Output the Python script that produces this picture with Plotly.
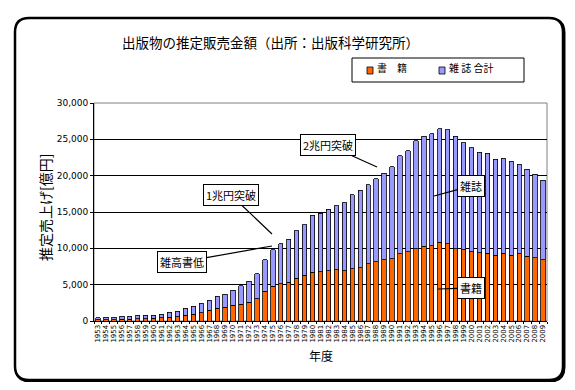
import plotly.graph_objects as go

years = [str(y) for y in range(1953, 2010)]

books = [180, 200, 200, 250, 260, 330, 340, 360, 430, 500,
         560, 760, 900, 1150, 1470, 1750, 1890, 2160, 2300, 2580,
         3090, 4100, 4790, 5160, 5340, 5900, 6270, 6680, 6790, 6930,
         7070, 6930, 7210, 7340, 7890, 8170, 8450, 8580, 9270, 9550,
         9910, 10260, 10370, 10830, 10650, 9960, 9820, 9550, 9410, 9320,
         9040, 9320, 9040, 9270, 8900, 8720, 8450]

magazines = [300, 300, 300, 400, 420, 450, 460, 460, 520, 720,
             780, 1020, 1150, 1290, 1410, 1690, 1810, 2100, 2520, 2920,
             3380, 4300, 5000, 5440, 5940, 6520, 6980, 7900, 8060, 8450,
             8810, 9360, 10190, 10650, 10880, 11430, 11880, 12670, 13500, 13900,
             14920, 15170, 15430, 15650, 15700, 15470, 14740, 14320, 13820, 13770,
             13220, 13080, 12950, 12300, 11980, 11480, 10920]

y_ticks = [0, 5000, 10000, 15000, 20000, 25000, 30000]
y_tick_text = ["0", "5,000", "10,000", "15,000", "20,000", "25,000", "30,000"]

FONT = "Noto Sans CJK JP"
OFF = 8  # default page body margin
W, H = 575 - 2 * OFF, 390 - 2 * OFF
# plot area in window pixel coordinates
L, R, T, B = 94, 547, 103, 321
ORANGE, BLUE = "#FF6600", "#9999FF"


def px(x):
    return (x - L) / (R - L)


def py(y):
    return (B - y) / (B - T)


fig = go.Figure()
fig.add_trace(go.Bar(x=years, y=books, name="書　籍",
                     marker=dict(color=ORANGE, line=dict(color="black", width=0.8)),
                     width=0.55))
fig.add_trace(go.Bar(x=years, y=magazines, name="雑 誌 合計",
                     marker=dict(color=BLUE, line=dict(color="black", width=0.8)),
                     width=0.55))


def rrect(x0, y0, x1, y1, r):
    p = []
    p.append(f"M {px(x0 + r)} {py(y0)}")
    p.append(f"L {px(x1 - r)} {py(y0)}")
    p.append(f"Q {px(x1)} {py(y0)} {px(x1)} {py(y0 + r)}")
    p.append(f"L {px(x1)} {py(y1 - r)}")
    p.append(f"Q {px(x1)} {py(y1)} {px(x1 - r)} {py(y1)}")
    p.append(f"L {px(x0 + r)} {py(y1)}")
    p.append(f"Q {px(x0)} {py(y1)} {px(x0)} {py(y1 - r)}")
    p.append(f"L {px(x0)} {py(y0 + r)}")
    p.append(f"Q {px(x0)} {py(y0)} {px(x0 + r)} {py(y0)}")
    p.append("Z")
    return " ".join(p)


shapes = [
    dict(type="path", xref="paper", yref="paper", path=rrect(16, 19, 564, 381, 14),
         line=dict(color="black", width=3), layer="below"),
    dict(type="path", xref="paper", yref="paper", path=rrect(15, 18, 563, 380, 14),
         line=dict(color="black", width=2.5), fillcolor="white", layer="below"),
    dict(type="rect", xref="paper", yref="paper", x0=0, y0=0, x1=1, y1=1,
         line=dict(color="#808080", width=1), layer="below"),
    # legend box
    dict(type="rect", xref="paper", yref="paper", x0=px(352), y0=py(82), x1=px(524), y1=py(58),
         line=dict(color="black", width=1), fillcolor="white"),
    dict(type="rect", xref="paper", yref="paper", x0=px(367), y0=py(74), x1=px(373), y1=py(67),
         line=dict(color="black", width=0.8), fillcolor=ORANGE),
    dict(type="rect", xref="paper", yref="paper", x0=px(439), y0=py(74), x1=px(445), y1=py(67),
         line=dict(color="black", width=0.8), fillcolor=BLUE),
]

annotations = [
    dict(text="出版物の推定販売金額（出所：出版科学研究所）", xref="paper", yref="paper",
         x=px(270), y=py(42), xanchor="center", yanchor="middle", showarrow=False,
         font=dict(size=13.5, family=FONT, color="black")),
    dict(text="推定売上げ[億円]", xref="paper", yref="paper", x=px(45), y=py(208),
         xanchor="center", yanchor="middle",
         textangle=-90, showarrow=False, font=dict(size=14, family=FONT, color="black")),
    dict(text="年度", xref="paper", yref="paper", x=px(321), y=py(355),
         xanchor="center", yanchor="middle",
         showarrow=False, font=dict(size=12, family=FONT, color="black")),
    dict(text="書　籍", xref="paper", yref="paper", x=px(375), y=py(68), xanchor="left",
         yanchor="middle", showarrow=False, font=dict(size=10, family=FONT, color="black")),
    dict(text="雑 誌 合計", xref="paper", yref="paper", x=px(447), y=py(68), xanchor="left",
         yanchor="middle", showarrow=False, font=dict(size=10, family=FONT, color="black")),
]

callouts = [
    ("2兆円突破", 377, 167, -49, -22),
    ("1兆円突破", 272, 234, -41, -39),
    ("雑高書低", 272, 246, -90, 16),
    ("雑誌", 434, 196, 37, -10),
    ("書籍", 438, 289, 33, -1),
]
for text, tx, ty, ax, ay in callouts:
    annotations.append(dict(text=text, xref="paper", yref="paper", x=px(tx), y=py(ty),
                            ax=ax, ay=ay, showarrow=True, arrowhead=0, arrowwidth=1.2,
                            arrowcolor="black", bgcolor="white", bordercolor="black",
                            borderwidth=1, borderpad=2, standoff=0,
                            font=dict(size=11, family=FONT, color="black")))

fig.update_layout(
    width=W, height=H,
    margin=dict(l=L - OFF, r=W - (R - OFF), t=T - OFF, b=H - (B - OFF), autoexpand=False),
    barmode="stack",
    bargap=0.45,
    paper_bgcolor="white",
    plot_bgcolor="#CCFFFF",
    font=dict(family=FONT, color="black"),
    showlegend=False,
    shapes=shapes,
    annotations=annotations,
    xaxis=dict(type="category", tickangle=-90, tickfont=dict(size=7, family="DejaVu Sans"),
               tickmode="linear", dtick=1,
               showline=True, linecolor="black", linewidth=1, ticks="outside",
               ticklen=2, tickcolor="black", tickson="boundaries", showgrid=False,
               range=[-0.5, len(years) - 0.5], automargin=False),
    yaxis=dict(range=[0, 30000], tickvals=y_ticks, ticktext=y_tick_text,
               tickfont=dict(size=9, family="DejaVu Sans"),
               showline=True, linecolor="black", linewidth=1, ticks="outside",
               ticklen=3, tickcolor="black", showgrid=True, gridcolor="black",
               gridwidth=1, zeroline=False, automargin=False),
)

fig.write_html("out.html")
